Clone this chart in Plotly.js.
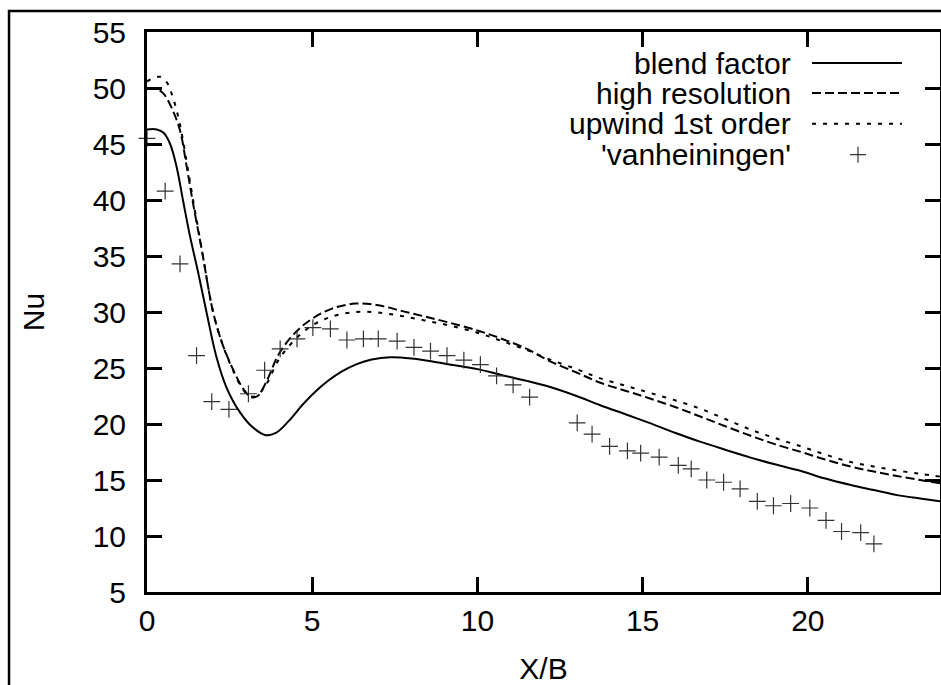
<!DOCTYPE html>
<html>
<head>
<meta charset="utf-8">
<script src="https://cdn.plot.ly/plotly-3.0.1.min.js"></script>
<style>
  html, body { margin: 0; padding: 0; background: #ffffff; }
  #chart { width: 941px; height: 685px; }
</style>
</head>
<body>
<div id="chart"></div>
<script>
// ---- Data ----
const seriesNames = ["blend factor", "high resolution", "upwind 1st order", "'vanheiningen'"];

const blendX = [0, 0.3, 0.5, 0.7, 0.9, 1.1, 1.3, 1.55, 1.8, 2.1, 2.4, 2.8, 3.2, 3.6, 3.9, 4.3, 4.7, 5.1, 5.5, 5.9, 6.35, 6.8, 7.36, 8.0, 8.6, 9.2, 10.0, 10.7, 11.5, 12.2, 13.0, 13.7, 14.5, 15.2, 16.0, 16.76, 17.5, 18.27, 19.0, 19.8, 20.5, 21.3, 22.0, 22.7, 23.4, 24];
const blendY = [46.3, 46.3, 46.0, 45.0, 42.9, 39.8, 36.8, 33.5, 30.0, 26.0, 23.3, 21.1, 19.7, 19.0, 19.2, 20.3, 21.7, 22.9, 23.9, 24.7, 25.35, 25.75, 25.95, 25.85, 25.6, 25.3, 24.9, 24.4, 23.85, 23.3, 22.5, 21.7, 20.85, 20.1, 19.2, 18.4, 17.7, 17.0, 16.4, 15.8, 15.15, 14.55, 14.1, 13.65, 13.35, 13.1];

const highResX = [0, 0.3, 0.5, 0.75, 1.0, 1.2, 1.4, 1.66, 2.0, 2.3, 2.6, 2.9, 3.15, 3.35, 3.6, 4.0, 4.5, 5.0, 5.6, 6.3, 7.0, 7.7, 8.4, 9.15, 10.0, 10.7, 11.5, 12.2, 13.0, 13.7, 14.5, 15.2, 16.0, 16.76, 17.5, 18.27, 19.0, 19.8, 20.5, 21.3, 22.0, 22.7, 23.4, 24];
const highResY = [50.0, 49.9, 49.5, 48.2, 46.2, 43.0, 39.6, 35.5, 30.0, 27.0, 24.9, 23.2, 22.4, 22.5, 23.7, 26.3, 28.2, 29.4, 30.3, 30.75, 30.6, 30.1, 29.6, 29.05, 28.35, 27.65, 26.7, 25.6, 24.6, 23.7, 22.95, 22.3, 21.5, 20.65, 19.8, 18.95, 18.2, 17.5, 16.85, 16.2, 15.75, 15.35, 15.0, 14.7];

const upwindX = [0, 0.2, 0.4, 0.6, 0.8, 1.0, 1.2, 1.4, 1.66, 2.0, 2.3, 2.6, 2.9, 3.1, 3.3, 3.6, 4.0, 4.5, 5.0, 5.6, 6.3, 7.0, 7.7, 8.4, 9.15, 10.0, 10.7, 11.5, 12.2, 13.0, 13.7, 14.5, 15.2, 16.0, 16.76, 17.5, 18.27, 19.0, 19.8, 20.5, 21.3, 22.0, 22.7, 23.4, 24];
const upwindY = [50.6, 50.9, 51.0, 50.5, 49.0, 46.7, 43.4, 39.9, 35.6, 30.0, 27.0, 24.8, 23.1, 22.5, 22.5, 23.5, 25.8, 27.6, 28.8, 29.6, 30.0, 29.95, 29.65, 29.25, 28.8, 28.15, 27.45, 26.6, 25.75, 24.9, 24.1, 23.4, 22.8, 22.1, 21.35, 20.45, 19.5, 18.75, 18.0, 17.3, 16.6, 16.2, 15.85, 15.55, 15.3];

const expX = [0, 0.55, 1.0, 1.5, 1.96, 2.48, 3.07, 3.56, 4.03, 4.54, 5.02, 5.55, 6.05, 6.55, 7.0, 7.57, 8.08, 8.58, 9.08, 9.59, 10.09, 10.58, 11.08, 11.58, 13.02, 13.47, 14.0, 14.54, 14.94, 15.5, 16.08, 16.47, 16.94, 17.45, 17.95, 18.47, 18.96, 19.48, 20.06, 20.55, 21.02, 21.6, 22.0];
const expY = [45.5, 40.8, 34.3, 26.1, 22.0, 21.3, 22.7, 24.8, 26.7, 27.6, 28.6, 28.5, 27.5, 27.6, 27.6, 27.4, 26.85, 26.5, 26.1, 25.7, 25.3, 24.3, 23.5, 22.4, 20.1, 19.1, 18.0, 17.6, 17.4, 17.05, 16.3, 16.0, 15.0, 14.8, 14.2, 13.1, 12.7, 12.9, 12.5, 11.4, 10.4, 10.3, 9.3];

const xTicks = [0, 5, 10, 15, 20];
const yTicks = [5, 10, 15, 20, 25, 30, 35, 40, 45, 50, 55];

// ---- Styles ----
const FONT = "Liberation Sans, Arial, sans-serif";
const dashHigh = "9px,4px";
const dashUp = "4px,7px";

const traces = [
  { x: blendX, y: blendY, name: seriesNames[0], mode: "lines",
    line: { color: "#000", width: 2, shape: "spline", smoothing: 1 } },
  { x: highResX, y: highResY, name: seriesNames[1], mode: "lines",
    line: { color: "#000", width: 2, dash: dashHigh, shape: "spline", smoothing: 1 } },
  { x: upwindX, y: upwindY, name: seriesNames[2], mode: "lines",
    line: { color: "#000", width: 2, dash: dashUp, shape: "spline", smoothing: 1 } },
  { x: expX, y: expY, name: seriesNames[3], mode: "markers", cliponaxis: false,
    marker: { symbol: "cross-thin-open", size: 12, color: "#333", line: { color: "#333", width: 1.2 } } }
];

// custom gnuplot-style key (text right-aligned, sample to its right)
const keyTextX = 0.815, keyS0 = 0.8386, keyS1 = 0.952, keyCross = 0.8966;
const keyRows = [0.9446, 0.891, 0.836, 0.781];
const annotations = seriesNames.map((n, i) => ({
  xref: "paper", yref: "paper", x: keyTextX, y: keyRows[i],
  xanchor: "right", yanchor: "middle", text: n, showarrow: false,
  font: { family: FONT, size: 30, color: "#000" }
}));
const shapes = [
  { type: "line", xref: "paper", yref: "paper", x0: keyS0, x1: keyS1, y0: keyRows[0], y1: keyRows[0],
    line: { color: "#000", width: 2 } },
  { type: "line", xref: "paper", yref: "paper", x0: keyS0, x1: keyS1, y0: keyRows[1], y1: keyRows[1],
    line: { color: "#000", width: 2, dash: dashHigh } },
  { type: "line", xref: "paper", yref: "paper", x0: keyS0, x1: keyS1, y0: keyRows[2], y1: keyRows[2],
    line: { color: "#000", width: 2, dash: dashUp } },
  // outer frame of the figure
  { type: "rect", xref: "paper", yref: "paper", x0: -0.174, x1: 1.2, y0: -0.4, y1: 1.0375,
    line: { color: "#000", width: 2.5 }, fillcolor: "rgba(0,0,0,0)", layer: "below" }
];

const layout = {
  width: 941, height: 685,
  margin: { l: 147, r: 1, t: 32, b: 93 },
  paper_bgcolor: "#fff", plot_bgcolor: "#fff",
  showlegend: false,
  font: { family: FONT, size: 30, color: "#000" },
  xaxis: {
    range: [0, 24], tickvals: xTicks, ticktext: xTicks.map(String),
    showgrid: false, zeroline: false, showline: true, linecolor: "#000", linewidth: 3,
    mirror: "ticks", ticks: "inside", ticklen: 15, tickwidth: 3, tickcolor: "#000",
    tickfont: { family: FONT, size: 30, color: "#000" }, ticklabelstandoff: 2.5,
    title: { text: "X/B", font: { family: FONT, size: 30, color: "#000" }, standoff: 34.5 }
  },
  yaxis: {
    range: [5, 55], tickvals: yTicks, ticktext: yTicks.map(String),
    showgrid: false, zeroline: false, showline: true, linecolor: "#000", linewidth: 3,
    mirror: "ticks", ticks: "inside", ticklen: 15, tickwidth: 3, tickcolor: "#000",
    tickfont: { family: FONT, size: 30, color: "#000" }, ticklabelstandoff: 12,
    title: { text: "Nu", font: { family: FONT, size: 30, color: "#000" }, standoff: 40 }
  },
  annotations: annotations,
  shapes: shapes
};

Plotly.newPlot("chart", traces, layout, { displayModeBar: false, staticPlot: true }).then(gd => {
  // cross marker in the key
  const fl = gd._fullLayout;
  const px = fl.margin.l + keyCross * fl._size.w;
  const py = fl.margin.t + (1 - keyRows[3]) * fl._size.h;
  const svg = gd.querySelector(".infolayer");
  const ns = "http://www.w3.org/2000/svg";
  const p = document.createElementNS(ns, "path");
  p.setAttribute("d", `M${px - 8},${py}H${px + 8}M${px},${py - 8}V${py + 8}`);
  p.setAttribute("stroke", "#333");
  p.setAttribute("stroke-width", "1.2");
  p.setAttribute("fill", "none");
  svg.appendChild(p);
});
</script>
</body>
</html>
